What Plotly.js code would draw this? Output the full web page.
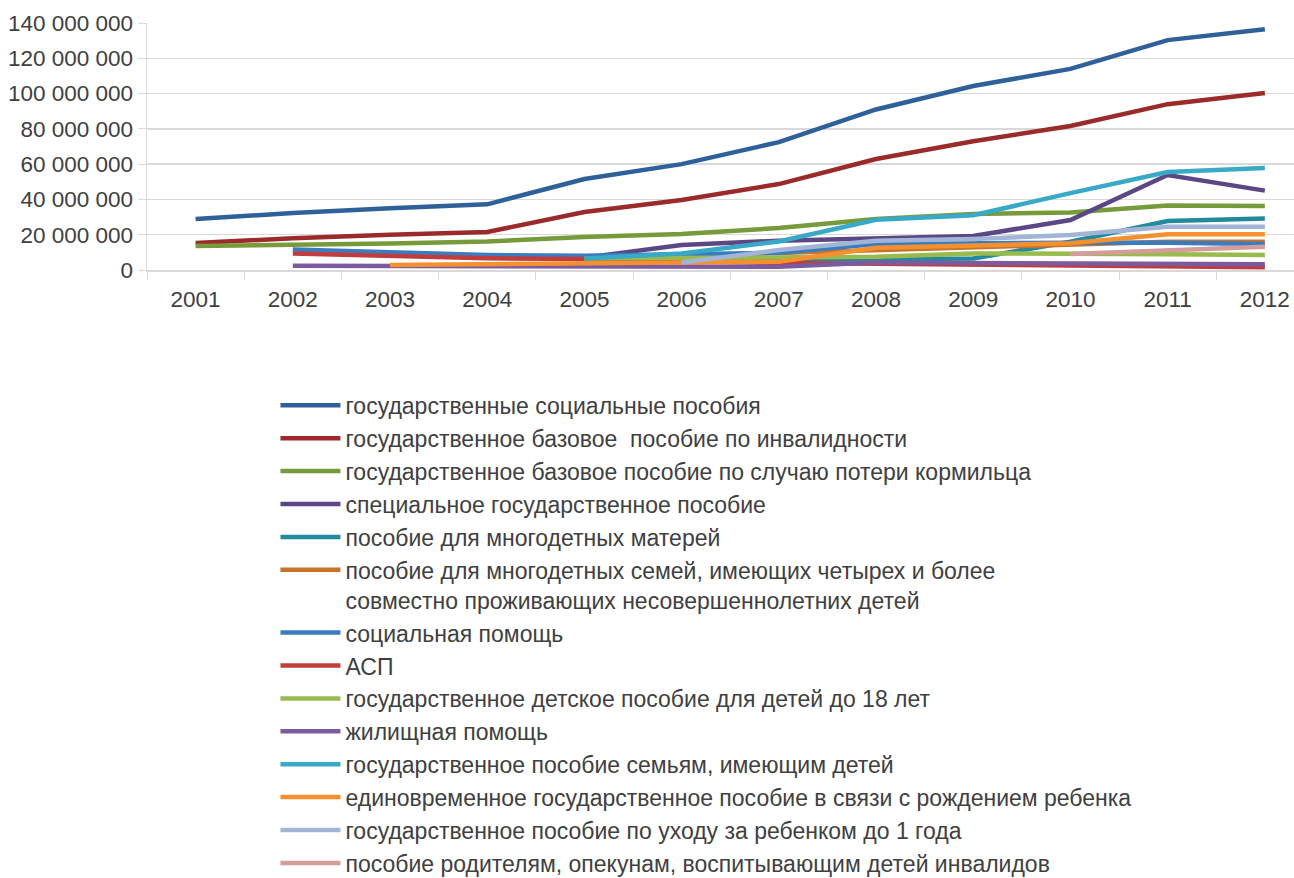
<!DOCTYPE html>
<html>
<head>
<meta charset="utf-8">
<script src="https://cdn.plot.ly/plotly-3.0.1.min.js"></script>
<style>
  html, body { margin: 0; padding: 0; overflow: hidden; background: #fff; }
</style>
</head>
<body>
<div id="chart" style="width:1294px;height:1060px;"></div>
<script>
var years = ["2001", "2002", "2003", "2004", "2005", "2006", "2007", "2008", "2009", "2010", "2011", "2012"];

var names = [
  "государственные социальные пособия",
  "государственное базовое  пособие по инвалидности",
  "государственное базовое пособие по случаю потери кормильца",
  "специальное государственное пособие",
  "пособие для многодетных матерей",
  "пособие для многодетных семей, имеющих четырех и более<br>совместно проживающих несовершеннолетних детей",
  "социальная помощь",
  "АСП",
  "государственное детское пособие для детей до 18 лет",
  "жилищная помощь",
  "государственное пособие семьям, имеющим детей",
  "единовременное государственное пособие в связи с рождением ребенка",
  "государственное пособие по уходу за ребенком до 1 года",
  "пособие родителям, опекунам, воспитывающим детей инвалидов"
];

var colors = ["#2e6199", "#9b2b2a", "#779a3b", "#5c4785", "#23899c", "#c7732c",
              "#3a7cc0", "#c13c3c", "#99bb4e", "#7c5aa0", "#38a9c6", "#f5902f",
              "#a3b5d7", "#d49c9a"];

// values
var socialBenefits   = [28.9e6, 32.3e6, 35.0e6, 37.2e6, 51.6e6, 60.0e6, 72.5e6, 91.0e6, 104.3e6, 114.0e6, 130.3e6, 136.5e6];
var disability       = [15.3e6, 18.0e6, 20.0e6, 21.5e6, 32.9e6, 39.7e6, 48.7e6, 62.9e6, 73.0e6, 81.6e6, 94.0e6, 100.3e6];
var breadwinner      = [13.6e6, 14.2e6, 15.0e6, 16.2e6, 18.7e6, 20.4e6, 23.8e6, 28.9e6, 31.7e6, 32.6e6, 36.6e6, 36.3e6];
var special          = [null, null, null, null, 7.0e6, 14.2e6, 16.6e6, 18.1e6, 19.3e6, 28.3e6, 53.8e6, 45.0e6];
var largeMothers     = [null, null, null, null, 5.0e6, 5.5e6, 6.0e6, 6.2e6, 6.5e6, 16.0e6, 27.8e6, 29.2e6];
var largeFamilies    = [null, null, null, null, null, 8.0e6, 9.6e6, 11.3e6, 13.2e6, 14.2e6, 16.0e6, 16.0e6];
var socialHelp       = [null, 11.6e6, 10.0e6, 8.5e6, 8.1e6, 9.0e6, 9.8e6, 14.7e6, 15.3e6, 15.5e6, 15.5e6, 14.7e6];
var asp              = [null, 9.4e6, 8.1e6, 6.6e6, 6.2e6, 5.0e6, 4.0e6, 3.5e6, 3.0e6, 2.5e6, 2.0e6, 1.5e6];
var childUnder18     = [null, null, null, null, 6.5e6, 7.0e6, 7.0e6, 7.5e6, 9.4e6, 9.4e6, 8.9e6, 8.5e6];
var housing          = [null, 2.4e6, 2.3e6, 1.9e6, 1.8e6, 1.8e6, 1.8e6, 4.2e6, 4.0e6, 3.8e6, 3.5e6, 3.2e6];
var familiesChildren = [null, null, null, null, 6.5e6, 9.4e6, 16.2e6, 28.5e6, 31.0e6, 43.6e6, 55.5e6, 57.8e6];
var birthGrant       = [null, null, 2.8e6, 3.4e6, 3.8e6, 4.0e6, 4.7e6, 12.6e6, 13.6e6, 15.1e6, 20.2e6, 20.2e6];
var childCare        = [null, null, null, null, null, 4.2e6, 11.3e6, 16.6e6, 17.6e6, 19.8e6, 24.5e6, 24.5e6];
var disabledChildren = [null, null, null, null, null, null, null, null, null, 9.1e6, 11.3e6, 13.2e6];

var series = [socialBenefits, disability, breadwinner, special, largeMothers, largeFamilies,
              socialHelp, asp, childUnder18, housing, familiesChildren, birthGrant,
              childCare, disabledChildren];

var textColor = "#404040";
var gridColor = "#d9d9d9";

var traces = series.map(function (vals, i) {
  return {
    x: years,
    y: vals,
    name: names[i],
    type: "scatter",
    mode: "lines",
    line: {color: colors[i], width: 4.5},
    hoverinfo: "x+y+name"
  };
});

// figure is taller than the window: a legend below the plot may only use
// half the figure height, so it gets room here and the page cuts at 878px
var layout = {
  width: 1294,
  height: 1060,
  margin: {l: 147, r: 0, t: 23, b: 790},
  paper_bgcolor: "#ffffff",
  plot_bgcolor: "#ffffff",
  separators: ", ",
  font: {family: "Liberation Sans, Arial, sans-serif", size: 22.5, color: textColor},
  showlegend: true,
  xaxis: {
    type: "category",
    range: [-0.5, 11.3],
    showgrid: false,
    showline: true,
    linecolor: gridColor,
    linewidth: 1.5,
    ticks: "outside",
    tickson: "boundaries",
    ticklen: 8,
    tickcolor: gridColor,
    ticklabelstandoff: 8,
    tickfont: {size: 22.5, color: textColor},
    fixedrange: true
  },
  yaxis: {
    range: [0, 140000000],
    tickvals: [0, 20000000, 40000000, 60000000, 80000000, 100000000, 120000000, 140000000],
    tickformat: ",d",
    showgrid: true,
    gridcolor: gridColor,
    gridwidth: 1.5,
    zeroline: false,
    showline: true,
    linecolor: gridColor,
    linewidth: 1.5,
    ticks: "outside",
    ticklen: 8,
    tickcolor: gridColor,
    tickfont: {size: 22.5, color: textColor},
    fixedrange: true
  },
  legend: {
    orientation: "v",
    x: 0.112,
    xanchor: "left",
    y: -0.461,
    yanchor: "top",
    valign: "top",
    itemwidth: 60,
    traceorder: "normal",
    font: {size: 23, color: textColor},
    bgcolor: "rgba(0,0,0,0)"
  }
};

Plotly.newPlot("chart", traces, layout, {displayModeBar: false, staticPlot: true});
</script>
</body>
</html>
